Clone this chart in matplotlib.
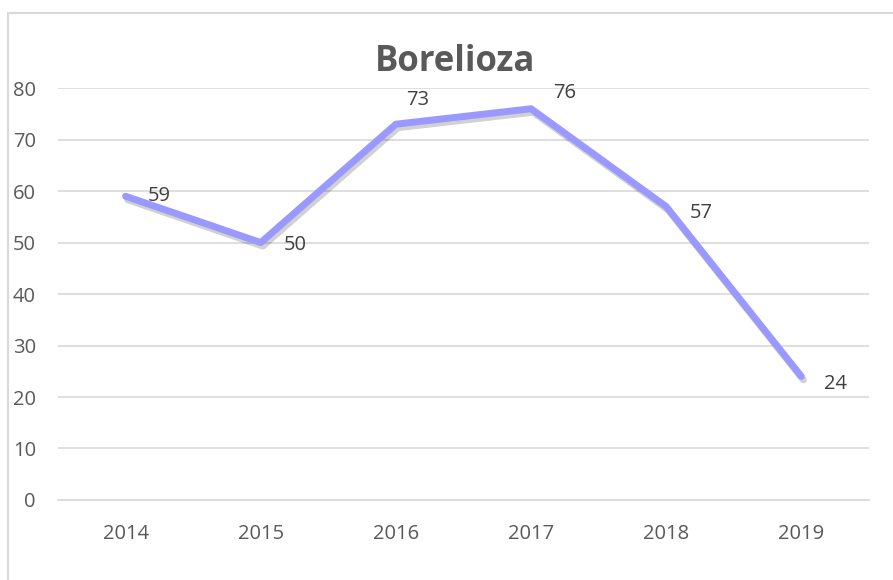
import matplotlib.pyplot as plt
import matplotlib.patheffects as pe

years = ["2014", "2015", "2016", "2017", "2018", "2019"]
cases = [59, 50, 73, 76, 57, 24]
# label offsets in pixels (dx, dy), mimicking the Excel placement
label_offsets = [(34, 0), (34, -2), (22, 24), (34, 16), (35, -6), (34, -8)]

plt.rcParams['font.family'] = ['Open Sans', 'DejaVu Sans']

fig = plt.figure(figsize=(8.93, 5.8), dpi=100)
ax = fig.add_axes([0.065, 0.138, 0.908, 0.71])

x = list(range(len(years)))
ax.plot(x, cases, color='#9999FF', lw=5, solid_capstyle='round', solid_joinstyle='round',
        path_effects=[pe.SimpleLineShadow(offset=(1.5, -2.5), alpha=0.18, shadow_color='black'), pe.Normal()],
        zorder=3)

for i, v in enumerate(cases):
    dx, dy = label_offsets[i]
    ax.annotate(str(v), (i, v), xytext=(dx, dy), textcoords='offset pixels',
                ha='center', va='center', fontsize=14.5, color='#404040', zorder=4)

ax.set_xlim(-0.5, 5.5)
ax.set_ylim(0, 80)
ax.set_yticks(range(0, 81, 10))
ax.set_xticks(x)
ax.set_xticklabels(years)
ax.yaxis.grid(True, color='#d9d9d9', lw=1.2)
ax.set_axisbelow(True)
for s in ax.spines.values():
    s.set_visible(False)
ax.tick_params(length=0, labelsize=14.5, colors='#595959')
ax.tick_params(axis='y', pad=16)
ax.tick_params(axis='x', pad=17)
ax.spines['bottom'].set_visible(True)
ax.spines['bottom'].set_color('#d9d9d9')
ax.spines['bottom'].set_linewidth(1.2)

fig.text(0.51, 0.893, "Borelioza", ha='center', va='center', fontsize=25,
         fontweight='bold', color='#595959')

# chart border (partially cropped in the reference)
border = plt.Rectangle((8 / 893, -0.1), 1.2, 1 - 13 / 580 + 0.1, transform=fig.transFigure,
                       fill=False, edgecolor='#d9d9d9', lw=1.5)
fig.patches.append(border)

fig.savefig("out.png", dpi=100)
